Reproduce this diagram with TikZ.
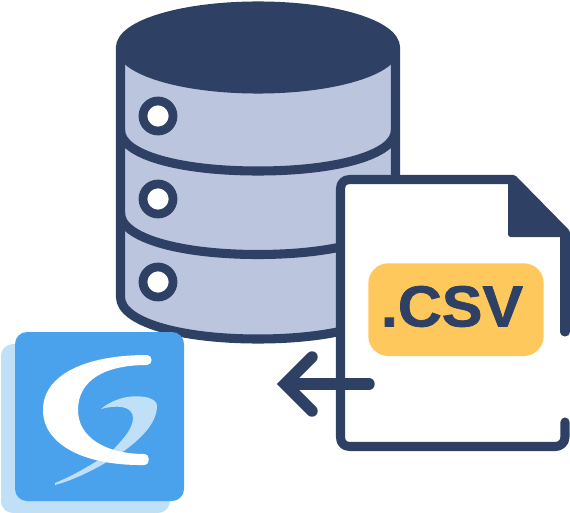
\documentclass[tikz,border=0pt]{standalone}
\usepackage{fontspec}
\setmainfont{Liberation Sans}
\newfontfamily\csvfont[FakeBold=1.2]{Liberation Sans Bold}
\definecolor{navy}{HTML}{2E4064}
\definecolor{steel}{HTML}{BBC5DD}
\definecolor{amber}{HTML}{FFC85C}
\definecolor{logoblue}{HTML}{4BA2EC}
\definecolor{logolight}{HTML}{BFE0F7}
\tikzset{
  outline/.style={draw=navy,line width=6.8pt,line join=round,line cap=round},
  hole/.style={circle,draw=navy,fill=white,line width=6.6pt,minimum size=22.5pt,inner sep=0pt,outer sep=0pt},
  arrowline/.style={draw=navy,line width=8.6pt,line cap=round}
}
\begin{document}
\begin{tikzpicture}[x=0.75pt,y=-0.75pt]
\useasboundingbox (0,0) rectangle (570,513);
% cylinder
\path[outline,fill=steel] (120.5,47) -- (120.5,297)
  .. controls (120.5,322) and (180,339) .. (258,339)
  .. controls (336,339) and (395.5,322) .. (395.5,297) -- (395.5,47) -- cycle;
\path[outline] (120.5,130) .. controls (120.5,155) and (180,171) .. (258,171)
  .. controls (336,171) and (395.5,155) .. (395.5,130);
\path[outline] (120.5,213) .. controls (120.5,238) and (180,254.5) .. (258,254.5)
  .. controls (336,254.5) and (395.5,238) .. (395.5,213);
\path[outline,fill=navy] (258,47.5) ellipse [x radius=137.5,y radius=41.5];
\node[hole] (d1) at (158,116) {};
\node[hole] (d2) at (158,199) {};
\node[hole] (d3) at (158,282) {};
% file
\fill[white,rounded corners=9pt] (340.5,446.5) -- (340.5,179.5) -- (513,179.5) [sharp corners] -- (565,233) [rounded corners=9pt] -- (565,446.5) -- cycle;
\path[outline] (565,332) -- (565,233);
\path[outline] (565,422) -- (565,437) .. controls (565,443) and (560,446.5) .. (555.5,446.5) -- (350,446.5)
  .. controls (344,446.5) and (340.5,443) .. (340.5,437) -- (340.5,189)
  .. controls (340.5,183) and (344,179.5) .. (350,179.5) -- (513,179.5);
\fill[navy,rounded corners=2pt] (508,176) -- (515,175) -- (570,231) -- (570,237) -- (508,237) -- cycle;
\fill[amber,rounded corners=15pt] (368.3,263.3) rectangle (543.7,356);
\node[text=navy,font=\csvfont\fontsize{43.5pt}{43.5pt}\selectfont,inner sep=0pt,xscale=1.05] (csv) at (452,306.5) {.CSV};
% arrow
\path[arrowline] (369,384) -- (287,384);
\path[arrowline,line join=miter] (312,357) -- (285,384) -- (312,411);
% logo
\fill[logolight,rounded corners=9pt] (1,344) rectangle (170,513);
\fill[logoblue,rounded corners=9pt] (15,332) rectangle (184,501);
\fill[logolight] (55,485) .. controls (70,481) and (85,474) .. (100,466)
  .. controls (125,452) and (157,430) .. (157,406)
  .. controls (157,397) and (140,395) .. (127,397)
  .. controls (117,399) and (108,403) .. (101,409)
  .. controls (115,405) and (133,405) .. (133,418)
  .. controls (133,430) and (120,442) .. (113,450)
  .. controls (100,460) and (75,475) .. (55,483) -- cycle;
\fill[white] (147,355) .. controls (153,355) and (153,365) .. (147,365)
  .. controls (105,365) and (78,380) .. (78,410)
  .. controls (78,437) and (105,454) .. (145,454)
  .. controls (150,454) and (150,465) .. (145,465)
  .. controls (85,466) and (43,445) .. (43,410)
  .. controls (43,375) and (85,355) .. (147,355) -- cycle;
\end{tikzpicture}
\end{document}
